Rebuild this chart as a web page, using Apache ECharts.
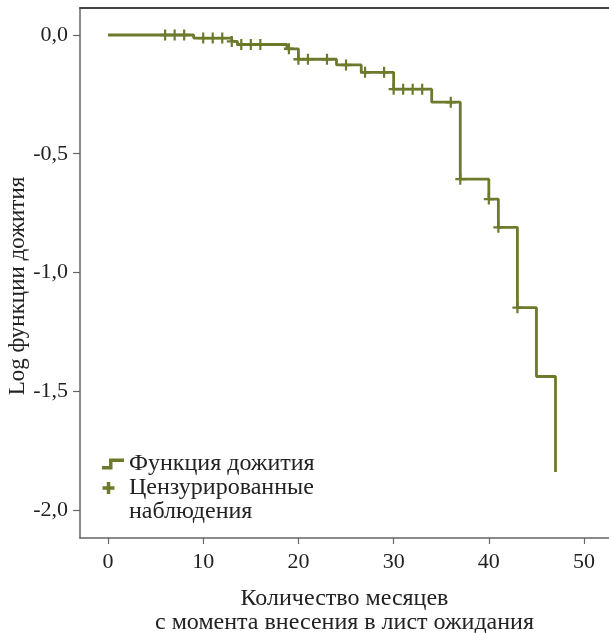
<!DOCTYPE html>
<html>
<head>
<meta charset="utf-8">
<script src="https://cdn.jsdelivr.net/npm/echarts@6/dist/echarts.min.js"></script>
<style>
html,body{margin:0;padding:0;background:#fff;}
#chart{width:609px;height:633px;}
</style>
</head>
<body>
<div id="chart"></div>
<script>
// Step function: time of each event and the log-survival level after it
var stepTimes  = [0, 9, 13, 13.6, 18.8, 20, 24, 26.6, 30, 34, 37, 40, 41, 43, 45, 47];
var stepLevels = [0, -0.013, -0.027, -0.040, -0.058, -0.102, -0.126, -0.157, -0.228, -0.283, -0.607, -0.691, -0.810, -1.148, -1.438, -1.840];
// Censored observation times
var censorTimes = [6, 7, 8, 10, 11, 12, 13, 14, 15, 16, 19, 20, 21, 23, 25, 27, 29, 30, 31, 32, 33, 36, 37, 40, 41, 43];
var xTicks = [0, 10, 20, 30, 40, 50];
var yTicks = [0, -0.5, -1, -1.5, -2];
var lineName = 'Функция дожития';
var censorName = 'Цензурированные\nнаблюдения';
var xTitle = 'Количество месяцев\nс момента внесения в лист ожидания';
var yTitle = 'Log функции дожития';

var color = '#6c7a2c';
var font = '"Liberation Serif", "DejaVu Serif", serif';

var lineData = [];
for (var i = 0; i < stepTimes.length; i++) {
  if (i > 0) lineData.push([stepTimes[i], stepLevels[i - 1]]);
  lineData.push([stepTimes[i], stepLevels[i]]);
}
function levelAt(t) {
  var lv = stepLevels[0];
  for (var i = 0; i < stepTimes.length; i++) { if (stepTimes[i] <= t) lv = stepLevels[i]; }
  return lv;
}
var censorData = censorTimes.map(function (t) { return [t, levelAt(t)]; });

var plusPath = 'path://M3.9,0h2.2v3.9h3.9v2.2h-3.9v3.9h-2.2v-3.9h-3.9v-2.2h3.9z';
var legendLineIcon = 'path://M0,7.5L7,7.5L7,0L22,0L22,3.5L10.5,3.5L10.5,11L0,11Z M0,-12.5L0,-12.5Z M0,23.5L0,23.5Z';
var legendPlusIcon = 'path://M4.75,0h3.5v4.25h4.25v3.5h-4.25v4.25h-3.5v-4.25h-4.25v-3.5h4.25z M0,0L0,0Z M22,36L22,36Z';

var chart = echarts.init(document.getElementById('chart'), null, {renderer: 'canvas'});
chart.setOption({
  backgroundColor: '#fff',
  animation: false,
  textStyle: {fontFamily: font},
  grid: {left: 80, top: 8, right: 0, bottom: 95, containLabel: false, outerBoundsMode: 'none'},
  legend: {
    orient: 'vertical', left: 97, top: 441, itemGap: -6,
    itemWidth: 22, itemHeight: 36, itemStyle: {borderWidth: 0, opacity: 1},
    textStyle: {fontFamily: font, fontSize: 24, color: '#222', lineHeight: 24},
    data: [
      {name: lineName, icon: legendLineIcon, itemStyle: {color: color, opacity: 1}},
      {name: censorName, icon: legendPlusIcon, itemStyle: {color: color, opacity: 1}}
    ],
    selectedMode: false
  },
  xAxis: [{
    type: 'value', min: -2.94, max: 52.62, position: 'bottom',
    name: xTitle, nameLocation: 'middle', nameGap: 49, nameMoveOverlap: false,
    nameTextStyle: {fontFamily: font, fontSize: 24, color: '#222', lineHeight: 24},
    splitLine: {show: false},
    axisLine: {show: true, onZero: false, lineStyle: {color: '#666', width: 1.5}},
    axisTick: {show: true, length: 6, customValues: xTicks, lineStyle: {color: '#666', width: 1.2}},
    axisLabel: {show: true, customValues: xTicks, margin: 13, fontFamily: font, fontSize: 22, color: '#222',
      formatter: function (v) { return String(v); }}
  }, {
    type: 'value', min: -2.94, max: 52.62, position: 'top',
    splitLine: {show: false},
    axisLine: {show: true, onZero: false, lineStyle: {color: '#444', width: 2}},
    axisTick: {show: false}, axisLabel: {show: false}
  }],
  yAxis: {
    type: 'value', min: -2.118, max: 0.1137,
    name: yTitle, nameLocation: 'middle', nameGap: 51, nameRotate: 90, nameMoveOverlap: false,
    nameTextStyle: {fontFamily: font, fontSize: 23, color: '#222', padding: [0, 26, 0, 0]},
    splitLine: {show: false},
    axisLine: {show: true, onZero: false, lineStyle: {color: '#666', width: 1.5}},
    axisTick: {show: true, length: 7, customValues: yTicks, lineStyle: {color: '#666', width: 1.2}},
    axisLabel: {show: true, customValues: yTicks, margin: 12, fontFamily: font, fontSize: 22, color: '#222',
      formatter: function (v) { return v.toFixed(1).replace('.', ','); }}
  },
  series: [{
    name: lineName, type: 'line', data: lineData, showSymbol: false, symbol: 'none',
    lineStyle: {color: color, width: 2.8}, itemStyle: {color: color}, z: 2
  }, {
    name: censorName, type: 'scatter', data: censorData, symbol: plusPath, symbolSize: [10, 11],
    itemStyle: {color: color, opacity: 1}, z: 3
  }]
});
</script>
</body>
</html>
